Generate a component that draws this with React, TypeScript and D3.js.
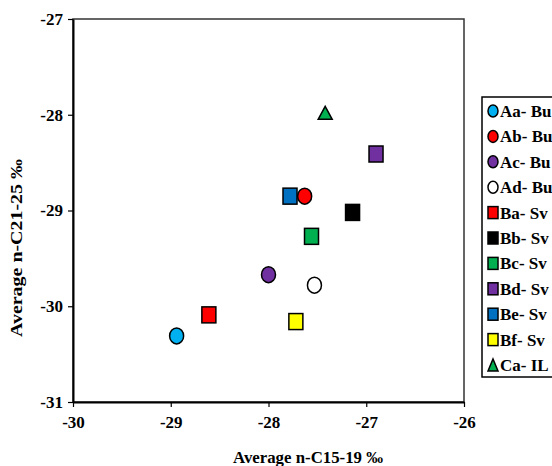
import React, { useEffect, useRef } from "react";
import * as d3 from "d3";

// sample codes and legend labels
const codes = ["Aa", "Ab", "Ac", "Ad", "Ba", "Bb", "Bc", "Bd", "Be", "Bf", "Ca"];
const legendLabels = ["Aa- Bu", "Ab- Bu", "Ac- Bu", "Ad- Bu", "Ba- Sv", "Bb- Sv", "Bc- Sv", "Bd- Sv", "Be- Sv", "Bf- Sv", "Ca- IL"];
// average n-C15-19 (x) and n-C21-25 (y), per mil
const c1519 = [-28.94, -27.63, -28.0, -27.53, -28.61, -27.14, -27.56, -26.9, -27.78, -27.72, -27.42];
const c2125 = [-30.31, -28.85, -29.67, -29.78, -30.09, -29.02, -29.27, -28.41, -28.85, -30.16, -27.98];
const xTicks = [-30, -29, -28, -27, -26];
const yTicks = [-31, -30, -29, -28, -27];

const fills: Record<string, string> = {
  Aa: "#00B0F0", Ab: "#FF0000", Ac: "#7030A0", Ad: "#FFFFFF",
  Ba: "#FF0000", Bb: "#000000", Bc: "#00B050", Bd: "#7030A0",
  Be: "#0070C0", Bf: "#FFFF00", Ca: "#00B050",
};
const shapeOf = (c: string) => (c[0] === "A" ? "circle" : c[0] === "B" ? "square" : "triangle");

const App = () => {
  const ref = useRef<SVGSVGElement>(null);
  const width = 552;
  const height = 466;
  const plot = { left: 73, right: 464, top: 19, bottom: 402 };
  const font = "'Liberation Serif', 'Times New Roman', serif";

  useEffect(() => {
    const svg = d3.select(ref.current);
    svg.selectAll("*").remove();

    const x = d3.scaleLinear().domain([-30, -26]).range([plot.left, plot.right]);
    const y = d3.scaleLinear().domain([-31, -27]).range([plot.bottom, plot.top]);

    svg.append("rect").attr("width", width).attr("height", height).attr("fill", "white");

    // frame
    svg.append("rect")
      .attr("x", plot.left).attr("y", plot.top)
      .attr("width", plot.right - plot.left).attr("height", plot.bottom - plot.top)
      .attr("fill", "none").attr("stroke", "#333").attr("stroke-width", 1.5);

    // axes (plain hyphen like the original)
    const fmt = (d: any) => String(d);
    const xAxis = svg.append("g")
      .attr("transform", `translate(0,${plot.bottom})`)
      .call(d3.axisBottom(x).tickValues(xTicks).tickSize(5).tickSizeOuter(0).tickFormat(fmt));
    const yAxis = svg.append("g")
      .attr("transform", `translate(${plot.left},0)`)
      .call(d3.axisLeft(y).tickValues(yTicks).tickSize(5).tickSizeOuter(0).tickFormat(fmt));

    [xAxis, yAxis].forEach((g) => {
      g.select(".domain").attr("stroke", "#000").attr("stroke-width", 2);
      g.selectAll(".tick line").attr("stroke", "#000").attr("stroke-width", 1.2);
      g.selectAll(".tick text")
        .attr("fill", "#000")
        .style("font-family", font)
        .style("font-size", "17px")
        .style("font-weight", "bold");
    });
    xAxis.selectAll(".tick text").attr("y", 14).attr("dy", "0.71em");
    yAxis.selectAll(".tick text").attr("x", -10);

    // axis titles
    svg.append("text")
      .attr("x", 308).attr("y", 463)
      .attr("text-anchor", "middle")
      .style("font-family", font).style("font-size", "16px").style("font-weight", "bold")
      .attr("textLength", 150).attr("lengthAdjust", "spacingAndGlyphs")
      .text("Average n-C15-19 ‰");
    svg.append("text")
      .attr("transform", "translate(22,248) rotate(-90)")
      .attr("text-anchor", "middle")
      .style("font-family", font).style("font-size", "17px").style("font-weight", "bold")
      .attr("textLength", 178).attr("lengthAdjust", "spacingAndGlyphs")
      .text("Average n-C21-25 ‰");

    const drawMarker = (g: any, code: string, cx: number, cy: number, w: number, h: number) => {
      const shape = shapeOf(code);
      const sw = 1.5;
      if (shape === "circle") {
        g.append("ellipse").attr("cx", cx).attr("cy", cy).attr("rx", w / 2).attr("ry", h / 2)
          .attr("fill", fills[code]).attr("stroke", "#000").attr("stroke-width", sw);
      } else if (shape === "square") {
        g.append("rect").attr("x", cx - w / 2).attr("y", cy - h / 2).attr("width", w).attr("height", h)
          .attr("fill", fills[code]).attr("stroke", "#000").attr("stroke-width", sw);
      } else {
        g.append("path")
          .attr("d", `M${cx},${cy - h / 2}L${cx + w / 2},${cy + h / 2}L${cx - w / 2},${cy + h / 2}Z`)
          .attr("fill", fills[code]).attr("stroke", "#000").attr("stroke-width", sw);
      }
    };

    // points
    const pts = svg.append("g");
    codes.forEach((c, i) => {
      const isTri = shapeOf(c) === "triangle";
      drawMarker(pts, c, x(c1519[i]), y(c2125[i]), 14, isTri ? 13 : 16);
    });

    // legend
    const lg = svg.append("g");
    lg.append("rect")
      .attr("x", 482).attr("y", 97).attr("width", 90).attr("height", 280)
      .attr("fill", "white").attr("stroke", "#000").attr("stroke-width", 1.5);
    const ly = d3.scalePoint<string>().domain(codes).range([111, 365]);
    codes.forEach((c, i) => {
      const cy = ly(c) as number;
      drawMarker(lg, c, 493, cy, 10, 12);
      lg.append("text")
        .attr("x", 500).attr("y", cy).attr("dy", "0.35em")
        .style("font-family", font).style("font-size", "17px").style("font-weight", "bold")
        .text(legendLabels[i]);
    });
  }, []);

  return (
    <svg ref={ref} width={width} height={height} style={{ position: "absolute", left: 0, top: 0 }} />
  );
};

export default App;
